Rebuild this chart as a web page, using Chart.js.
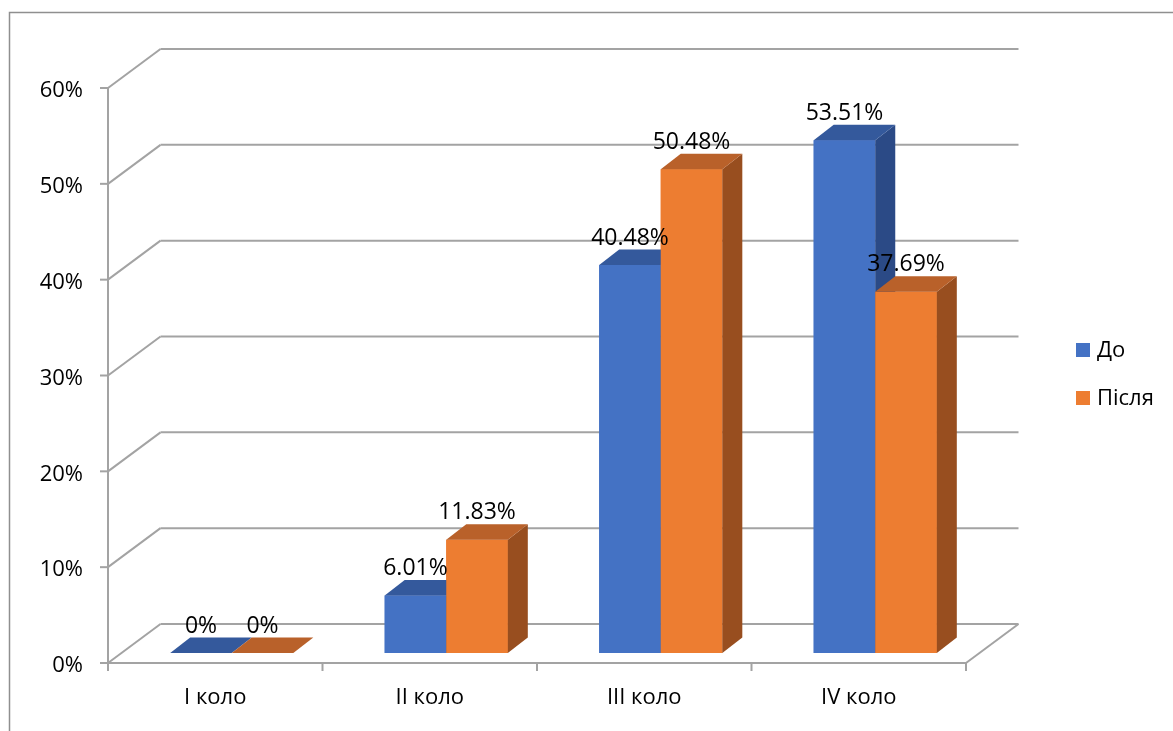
<!DOCTYPE html>
<html>
<head>
<meta charset="utf-8">
<title>До / Після</title>
<script src="https://cdn.jsdelivr.net/npm/chart.js@4.4.1/dist/chart.umd.min.js"></script>
<style>
    html, body { margin: 0; padding: 0; background: #fff; }
    #chart { display: block; }
</style>
</head>
<body>
<canvas id="chart" width="1173" height="731"></canvas>
<script>
// Data
const categories = ['I коло', 'II коло', 'III коло', 'IV коло'];
const beforeValues = [0, 6.01, 40.48, 53.51];
const afterValues = [0, 11.83, 50.48, 37.69];
const yTicks = [0, 10, 20, 30, 40, 50, 60];
const seriesNames = ['До', 'Після'];

// 3D look (offsets from the plane where the bar fronts sit)
const FRONT = { dx: -16.5, dy: 10 };   // front edge of the floor / y axis
const BACK = { dx: 36, dy: -29 };      // back wall
const DEPTH = { dx: 20, dy: -15.5 };   // depth of one bar
const LINE = '#a3a3a3';
const FONT = "'Open Sans', 'Liberation Sans', sans-serif";
const shades = [
    { front: '#4472C4', top: '#34599C', side: '#2B4A86' },
    { front: '#ED7D31', top: '#B9612A', side: '#984E1F' }
];

function poly(ctx, pts, color) {
    ctx.beginPath();
    ctx.moveTo(pts[0][0], pts[0][1]);
    for (let i = 1; i < pts.length; i++) ctx.lineTo(pts[i][0], pts[i][1]);
    ctx.closePath();
    ctx.fillStyle = color;
    ctx.fill();
}

function line(ctx, x1, y1, x2, y2) {
    ctx.beginPath();
    ctx.moveTo(x1, y1);
    ctx.lineTo(x2, y2);
    ctx.stroke();
}

const bars3d = {
    id: 'bars3d',
    beforeDraw(chart) {
        const ctx = chart.ctx;
        const ca = chart.chartArea;
        const y = chart.scales.y;
        ctx.save();

        // outer frame (only top and left are in view)
        ctx.strokeStyle = '#8f8f8f';
        ctx.lineWidth = 1.5;
        ctx.strokeRect(9.5, 12.5, chart.width + 20, chart.height + 20);

        ctx.strokeStyle = LINE;
        ctx.lineWidth = 2;
        const fx = ca.left + FRONT.dx;
        const bx = ca.left + BACK.dx;
        const bxr = ca.right + BACK.dx;
        yTicks.forEach(t => {
            const yp = y.getPixelForValue(t);
            // side wall diagonal + back wall gridline
            line(ctx, fx, yp + FRONT.dy, bx, yp + BACK.dy);
            line(ctx, bx, yp + BACK.dy, bxr, yp + BACK.dy);
            // tick mark
            line(ctx, fx - 8, yp + FRONT.dy, fx, yp + FRONT.dy);
        });

        // y axis line
        const yTop = y.getPixelForValue(yTicks[yTicks.length - 1]) + FRONT.dy;
        const yZero = y.getPixelForValue(0) + FRONT.dy;
        line(ctx, fx, yTop, fx, yZero);

        // floor front edge and right edge
        const fxr = ca.right + FRONT.dx;
        line(ctx, fx, yZero, fxr, yZero);
        line(ctx, fxr, yZero, bxr, y.getPixelForValue(0) + BACK.dy);

        // category tick marks
        const x = chart.scales.x;
        const half = (x.getPixelForValue(1) - x.getPixelForValue(0)) / 2;
        for (let i = 0; i <= categories.length; i++) {
            const xp = x.getPixelForValue(0) - half + i * half * 2 + FRONT.dx;
            line(ctx, xp, yZero, xp, yZero + 8);
        }
        ctx.restore();
    },
    afterDatasetsDraw(chart) {
        // boxes drawn left to right so each front hides the side of the bar before it
        const ctx = chart.ctx;
        ctx.save();
        const metas = chart.data.datasets.map((ds, di) => chart.getDatasetMeta(di));
        categories.forEach((c, i) => {
            metas.forEach((meta, di) => {
                const s = shades[di];
                const p = meta.data[i].getProps(['x', 'y', 'base', 'width'], true);
                const l = p.x - p.width / 2;
                const r = p.x + p.width / 2;
                const top = Math.min(p.y, p.base);
                poly(ctx, [[l, top], [r, top], [r, p.base], [l, p.base]], s.front);
                poly(ctx, [[r, top], [r + DEPTH.dx, top + DEPTH.dy], [r + DEPTH.dx, p.base + DEPTH.dy], [r, p.base]], s.side);
                poly(ctx, [[l, top], [l + DEPTH.dx, top + DEPTH.dy], [r + DEPTH.dx, top + DEPTH.dy], [r, top]], s.top);
            });
        });
        ctx.restore();
    },
    afterDraw(chart) {
        const ctx = chart.ctx;
        const x = chart.scales.x;
        const y = chart.scales.y;
        ctx.save();
        ctx.fillStyle = '#000';
        ctx.font = '22px ' + FONT;

        // y tick labels
        ctx.textAlign = 'right';
        ctx.textBaseline = 'middle';
        yTicks.forEach(t => {
            ctx.fillText(t + '%', x.left + FRONT.dx - 25, y.getPixelForValue(t) + FRONT.dy + 3);
        });

        // category labels
        ctx.textAlign = 'center';
        categories.forEach((c, i) => {
            ctx.fillText(c, x.getPixelForValue(i) + FRONT.dx, 698);
        });

        // data labels
        ctx.font = '23px ' + FONT;
        chart.data.datasets.forEach((ds, di) => {
            chart.getDatasetMeta(di).data.forEach((bar, i) => {
                const p = bar.getProps(['x', 'y'], true);
                const v = ds.data[i];
                const txt = v === 0 ? '0%' : v.toFixed(2) + '%';
                ctx.fillText(txt, p.x, p.y + DEPTH.dy - 11.5);
            });
        });

        // legend
        ctx.font = '22px ' + FONT;
        ctx.textAlign = 'left';
        seriesNames.forEach((name, i) => {
            const ly = 343 + i * 48;
            ctx.fillStyle = shades[i].front;
            ctx.fillRect(1076, ly, 14, 14);
            ctx.fillStyle = '#000';
            ctx.fillText(name, 1097, ly + 8);
        });
        ctx.restore();
    }
};

new Chart(document.getElementById('chart'), {
    type: 'bar',
    data: {
        labels: categories,
        datasets: [
            {
                label: seriesNames[0],
                data: beforeValues,
                backgroundColor: shades[0].front,
                borderWidth: 0
            },
            {
                label: seriesNames[1],
                data: afterValues,
                backgroundColor: shades[1].front,
                borderWidth: 0
            }
        ]
    },
    options: {
        responsive: false,
        animation: false,
        events: [],
        layout: {
            padding: { left: 124.5, right: 190.5, top: 78, bottom: 78 }
        },
        datasets: {
            bar: { categoryPercentage: 0.574, barPercentage: 1 }
        },
        plugins: {
            legend: { display: false },
            tooltip: { enabled: false }
        },
        scales: {
            x: { display: false },
            y: { display: false, min: 0, max: 60 }
        }
    },
    plugins: [bars3d]
});
</script>
</body>
</html>
